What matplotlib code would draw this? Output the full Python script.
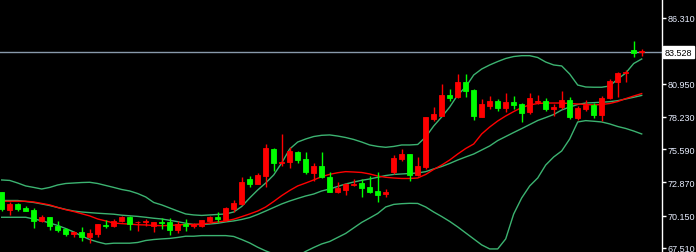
import numpy as np
import matplotlib
matplotlib.use('Agg')
import matplotlib.pyplot as plt

# 蜡烛数据 (红=阳线, 绿=阴线)
opens = [72.06, 70.64, 71.11, 70.78, 70.64, 69.74, 70.04, 69.28, 69.04, 68.68,
         68.82, 68.41, 68.65, 69.39, 69.33, 69.74, 70.01, 69.61, 69.66, 69.28,
         69.61, 69.66, 69.00, 69.47, 69.28, 69.33, 69.74, 70.01, 69.82, 70.70,
         71.11, 73.15, 72.74, 73.42, 75.60, 74.43, 74.52, 75.33, 74.79, 73.64,
         74.19, 73.29, 72.11, 72.28, 72.66, 72.82, 72.47, 72.19, 71.90, 73.75,
         74.79, 75.19, 73.48, 74.11, 78.05, 78.32, 80.02, 79.83, 81.10, 80.45,
         78.24, 79.14, 79.55, 78.98, 79.47, 79.28, 78.60, 79.42, 79.55, 78.87,
         79.01, 79.63, 78.11, 78.87, 79.20, 78.38, 79.75, 81.10, 81.79, 83.69,
         83.51]
closes = [70.70, 71.11, 70.70, 70.56, 69.74, 70.04, 69.28, 68.96, 68.65, 68.84,
          68.43, 68.74, 69.47, 69.31, 69.74, 70.04, 69.47, 69.66, 69.74, 69.66,
          69.55, 69.00, 69.47, 69.28, 69.47, 69.77, 70.01, 69.88, 70.77, 71.19,
          72.88, 72.74, 73.48, 75.69, 74.43, 74.56, 75.41, 74.73, 73.70, 74.19,
          73.29, 72.11, 72.39, 72.74, 72.74, 72.41, 72.11, 71.87, 72.11, 74.87,
          75.19, 73.48, 74.24, 78.19, 78.46, 80.02, 79.75, 81.10, 80.37, 78.27,
          79.28, 79.55, 78.95, 79.47, 79.22, 78.54, 79.75, 79.55, 78.87, 79.06,
          79.61, 78.19, 78.95, 79.20, 78.38, 79.77, 81.19, 81.81, 81.87, 83.45,
          83.64]
highs = [72.11, 71.30, 71.19, 70.92, 70.78, 70.21, 70.04, 69.69, 69.14, 68.92,
         69.20, 69.06, 69.47, 69.80, 69.88, 70.12, 70.12, 69.74, 69.88, 69.66,
         69.94, 69.94, 69.74, 69.88, 69.55, 69.82, 70.10, 70.43, 70.84, 71.43,
         73.29, 73.37, 73.64, 76.01, 75.66, 76.83, 75.74, 75.41, 75.33, 74.46,
         75.33, 73.70, 72.88, 72.82, 73.15, 73.15, 73.42, 73.72, 72.33, 75.11,
         75.60, 75.19, 74.92, 78.19, 79.01, 80.91, 80.51, 81.73, 81.73, 80.51,
         79.69, 79.96, 79.69, 80.18, 79.96, 79.36, 80.18, 80.02, 79.75, 79.26,
         80.37, 79.83, 79.09, 79.63, 79.36, 79.96, 81.32, 81.92, 82.08, 84.45,
         83.78]
lows = [70.56, 70.23, 70.56, 70.50, 69.14, 69.61, 69.00, 68.79, 68.51, 68.43,
        68.11, 67.92, 68.39, 69.12, 69.20, 69.66, 69.00, 68.92, 69.33, 68.84,
        69.06, 68.57, 68.74, 68.92, 69.12, 69.20, 69.55, 69.66, 69.74, 70.48,
        71.02, 72.47, 72.74, 72.47, 73.83, 74.24, 74.03, 74.46, 73.56, 73.01,
        73.23, 72.06, 72.01, 71.87, 72.55, 71.70, 72.01, 71.30, 71.65, 73.56,
        74.65, 73.01, 73.42, 73.97, 77.92, 78.32, 79.55, 79.75, 79.88, 78.00,
        78.19, 78.87, 78.73, 78.60, 78.87, 77.78, 78.46, 79.28, 78.73, 78.32,
        78.87, 78.05, 78.00, 78.73, 78.11, 77.92, 79.69, 79.83, 81.10, 83.10,
        83.23]

# 布林带与均线
bb_upper = [73.07, 73.03, 72.82, 72.58, 72.46, 72.33, 72.46, 72.66, 72.78, 72.82,
            72.86, 72.88, 72.78, 72.62, 72.46, 72.29, 72.17, 71.96, 71.68, 71.23,
            71.03, 70.78, 70.53, 70.29, 70.21, 70.17, 70.21, 70.25, 70.29, 70.45,
            70.90, 71.60, 72.25, 72.82, 73.48, 74.46, 75.60, 76.17, 76.42, 76.62,
            76.72, 76.75, 76.66, 76.54, 76.38, 76.17, 75.93, 75.81, 75.74, 75.81,
            75.93, 75.93, 75.97, 76.58, 77.48, 78.22, 79.03, 80.02, 80.67, 81.65,
            82.14, 82.47, 82.75, 83.00, 83.16, 83.23, 83.23, 83.08, 82.71, 82.47,
            82.39, 81.73, 80.83, 80.67, 80.65, 80.65, 80.75, 81.32, 81.81, 82.59,
            82.96]
bb_mid = [71.39, 71.39, 71.39, 71.31, 71.23, 71.11, 70.98, 70.82, 70.66, 70.53,
          70.45, 70.40, 70.35, 70.31, 70.27, 70.19, 70.14, 70.09, 70.02, 69.94,
          69.88, 69.77, 69.66, 69.53, 69.43, 69.43, 69.47, 69.53, 69.64, 69.72,
          69.84, 70.00, 70.25, 70.53, 70.82, 71.11, 71.35, 71.56, 71.76, 71.92,
          72.17, 72.33, 72.54, 72.74, 72.90, 73.04, 73.15, 73.29, 73.43, 73.52,
          73.56, 73.60, 73.64, 73.75, 73.97, 74.17, 74.42, 74.70, 74.95, 75.19,
          75.52, 75.85, 76.29, 76.62, 76.95, 77.27, 77.60, 77.93, 78.17, 78.42,
          78.79, 79.03, 79.24, 79.36, 79.39, 79.42, 79.47, 79.55, 79.69, 79.83,
          79.98]
bb_lower = [70.02, 70.02, 70.02, 70.02, 69.88, 69.74, 69.55, 69.35, 69.10, 68.82,
            68.49, 68.20, 68.00, 67.84, 67.90, 67.90, 67.90, 67.96, 68.12, 68.20,
            68.25, 68.29, 68.37, 68.47, 68.47, 68.52, 68.52, 68.52, 68.52, 68.45,
            68.20, 67.92, 67.57, 67.27, 67.02, 66.86, 66.78, 66.86, 67.23, 67.55,
            67.84, 68.04, 68.37, 68.70, 69.15, 69.60, 69.96, 70.33, 70.86, 71.07,
            71.13, 71.16, 71.15, 70.86, 70.45, 70.08, 69.68, 69.23, 68.74, 68.25,
            67.76, 67.43, 67.43, 68.25, 70.29, 71.60, 72.58, 73.23, 74.29, 74.95,
            75.44, 76.42, 77.81, 77.92, 77.87, 77.81, 77.65, 77.44, 77.28, 77.07,
            76.83]
ma_red = [71.33, 71.33, 71.33, 71.33, 71.27, 71.15, 71.03, 70.82, 70.64, 70.49,
          70.31, 70.13, 69.88, 69.72, 69.55, 69.50, 69.46, 69.41, 69.39, 69.35,
          69.33, 69.35, 69.39, 69.43, 69.43, 69.47, 69.55, 69.64, 69.72, 69.86,
          70.07, 70.29, 70.53, 70.86, 71.31, 71.79, 72.21, 72.58, 72.82, 73.07,
          73.34, 73.53, 73.66, 73.75, 73.72, 73.68, 73.56, 73.39, 73.29, 73.23,
          73.19, 73.19, 73.23, 73.52, 73.93, 74.29, 74.70, 75.19, 75.64, 76.01,
          76.83, 77.40, 77.89, 78.30, 78.66, 78.99, 79.20, 79.32, 79.36, 79.36,
          79.36, 79.32, 79.28, 79.24, 79.20, 79.24, 79.32, 79.48, 79.72, 79.93,
          80.13]

tick_values = [86.31, 80.95, 78.23, 75.59, 72.87, 70.15, 67.51]
tick_labels = ['86.310', '80.950', '78.230', '75.590', '72.870', '70.150', '67.510']
last_price = 83.528

plt.rcParams['font.family'] = 'Liberation Sans'

fig = plt.figure(figsize=(6.96, 2.53), dpi=100, facecolor='black')
ax = fig.add_axes([0, 0, 661.7 / 696, 1])
ax.set_facecolor('black')

x = np.arange(len(opens))
o = np.array(opens)
c = np.array(closes)
up = c >= o
colors = np.where(up, '#ff0000', '#00ff00')

band_col = '#3cb371'
ax.plot(x, bb_upper, color=band_col, lw=1)
ax.plot(x, bb_mid, color=band_col, lw=1)
ax.plot(x, bb_lower, color=band_col, lw=1)
ax.plot(x, ma_red, color='#ff0000', lw=1)

# 影线与实体
ax.vlines(x, lows, highs, colors=colors, lw=1, zorder=3)
ax.bar(x, np.abs(c - o), bottom=np.minimum(o, c), width=0.62,
       color=colors, edgecolor=colors, linewidth=0.6, zorder=4)

# 最新价横线
ax.axhline(last_price, color='#8899aa', lw=1, zorder=2)

ax.set_xlim(-0.2125, 82.5)
ax.set_ylim(67.18, 87.863)
ax.set_xticks([])
ax.yaxis.tick_right()
ax.set_yticks(tick_values)
ax.set_yticklabels(tick_labels)
ax.tick_params(axis='y', colors='white', labelcolor='#e8eeff', length=3,
               width=1, labelsize=6.5, pad=1.5)
for side in ['top', 'bottom', 'left']:
    ax.spines[side].set_visible(False)
ax.spines['right'].set_color('white')
ax.spines['right'].set_linewidth(1)

ax.text(1.004, last_price, '83.528', transform=ax.get_yaxis_transform(),
        ha='left', va='center', fontsize=6.5, color='black', clip_on=False,
        bbox=dict(boxstyle='square,pad=0.2', fc='white', ec='white'))

fig.savefig('out.png', dpi=100, facecolor='black')
